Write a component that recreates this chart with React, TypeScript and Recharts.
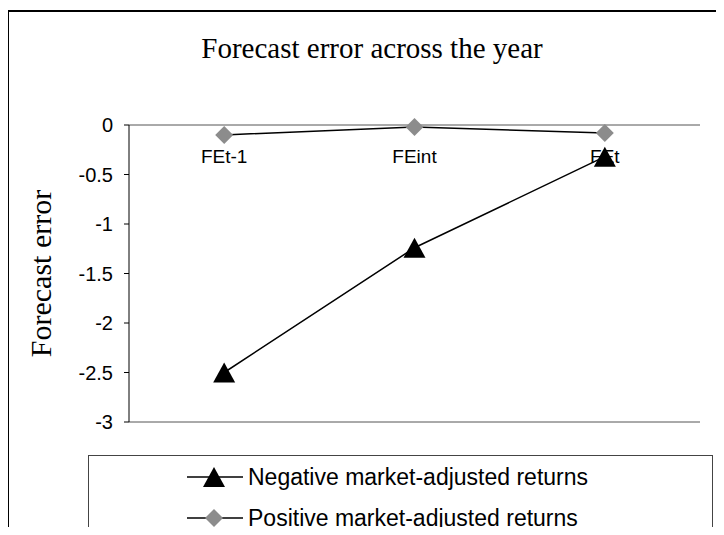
import React from 'react';
import { LineChart, Line, XAxis, YAxis, Legend, ReferenceLine } from 'recharts';

const periods = ['FEt-1', 'FEint', 'FEt'];
const negativeReturns = [-2.5, -1.24, -0.32];
const positiveReturns = [-0.1, -0.02, -0.08];
const yTicks = [0, -0.5, -1, -1.5, -2, -2.5, -3];

const SANS = '"Liberation Sans", Arial, sans-serif';
const SERIF = '"Liberation Serif", "Times New Roman", serif';
const DIAMOND_GREY = '#8c8c8c';

const chartData = periods.map((p, i) => ({
  period: p,
  negative: negativeReturns[i],
  positive: positiveReturns[i],
}));

function Triangle({ cx, cy }: { cx: number; cy: number }) {
  return <polygon points={`${cx},${cy - 10} ${cx + 11},${cy + 10} ${cx - 11},${cy + 10}`} fill="#000" />;
}

function Diamond({ cx, cy }: { cx: number; cy: number }) {
  return <polygon points={`${cx},${cy - 9} ${cx + 9},${cy} ${cx},${cy + 9} ${cx - 9},${cy}`} fill={DIAMOND_GREY} />;
}

const triangleDot = (props: any) => <Triangle key={`tri-${props.index}`} cx={props.cx} cy={props.cy} />;
const diamondDot = (props: any) => <Diamond key={`dia-${props.index}`} cx={props.cx} cy={props.cy} />;

// category labels sit just under the zero line at the top of the plot
const periodTick = (props: any) => {
  const { x, y, payload, index } = props;
  return (
    <text key={`tick-${index}`} x={x} y={y + 38} textAnchor="middle" fontSize={19} fontFamily={SANS} fill="#000">
      {payload.value}
    </text>
  );
};

function LegendSwatch({ marker }: { marker: 'triangle' | 'diamond' }) {
  return (
    <svg width={56} height={24} style={{ display: 'block' }}>
      <line x1={0} y1={12} x2={56} y2={12} stroke="#000" strokeWidth={1.5} />
      {marker === 'triangle' ? <Triangle cx={27} cy={12} /> : <Diamond cx={27} cy={12} />}
    </svg>
  );
}

function LegendBox() {
  const rows: { marker: 'triangle' | 'diamond'; label: string }[] = [
    { marker: 'triangle', label: 'Negative market-adjusted returns' },
    { marker: 'diamond', label: 'Positive market-adjusted returns' },
  ];
  return (
    <div style={{ paddingLeft: 98 }}>
      {rows.map((r) => (
        <div key={r.label} style={{ display: 'flex', alignItems: 'center', height: 41 }}>
          <LegendSwatch marker={r.marker} />
          <span style={{ marginLeft: 5, fontSize: 23, lineHeight: '26px', fontFamily: SANS, color: '#000' }}>
            {r.label}
          </span>
        </div>
      ))}
    </div>
  );
}

export default function App() {
  return (
    <div style={{ position: 'relative', width: 724, height: 535, margin: -8, overflow: 'hidden', background: '#fff' }}>
      <div
        style={{
          position: 'absolute',
          left: 7,
          top: 10,
          width: 760,
          height: 560,
          borderTop: '2px solid #000',
          borderLeft: '2px solid #000',
        }}
      />
      <div
        style={{
          position: 'absolute',
          left: 0,
          width: 744,
          top: 34,
          textAlign: 'center',
          fontFamily: SERIF,
          fontSize: 29,
          lineHeight: '29px',
          color: '#000',
        }}
      >
        Forecast error across the year
      </div>
      <div style={{ position: 'absolute', left: 0, top: 0 }}>
        <LineChart width={724} height={535} data={chartData} margin={{ top: 124, right: 24, bottom: 113, left: 0 }}>
          <XAxis
            dataKey="period"
            orientation="top"
            scale="band"
            height={1}
            tickSize={0}
            tickMargin={0}
            tick={periodTick}
            axisLine={{ stroke: '#555', strokeWidth: 1 }}
            tickLine={false}
          />
          <YAxis
            width={129}
            domain={[-3, 0]}
            ticks={yTicks}
            interval={0}
            tickSize={5}
            tickMargin={11}
            tick={{ fill: '#000', fontSize: 20, fontFamily: SANS }}
            axisLine={{ stroke: '#000', strokeWidth: 1 }}
            tickLine={{ stroke: '#000' }}
            label={{
              value: 'Forecast error',
              angle: -90,
              position: 'insideLeft',
              offset: 40,
              style: { textAnchor: 'middle', fontFamily: SERIF, fontSize: 30, fill: '#000' },
            }}
          />
          <YAxis
            yAxisId="frame"
            orientation="right"
            width={0}
            domain={[-3, 0]}
            tick={false}
            tickLine={false}
            axisLine={{ stroke: '#555', strokeWidth: 1 }}
          />
          <ReferenceLine y={-3} stroke="#555" strokeWidth={1} />
          <Line
            dataKey="negative"
            stroke="#000"
            strokeWidth={1.5}
            dot={triangleDot}
            activeDot={false}
            isAnimationActive={false}
          />
          <Line
            dataKey="positive"
            stroke="#000"
            strokeWidth={1.5}
            dot={diamondDot}
            activeDot={false}
            isAnimationActive={false}
          />
          <Legend
            layout="horizontal"
            verticalAlign="middle"
            align="center"
            content={() => <LegendBox />}
            wrapperStyle={{
              left: 88,
              top: 455,
              width: 625,
              height: 100,
              border: '1px solid #444',
              boxSizing: 'border-box',
              background: '#fff',
            }}
          />
        </LineChart>
      </div>
    </div>
  );
}
